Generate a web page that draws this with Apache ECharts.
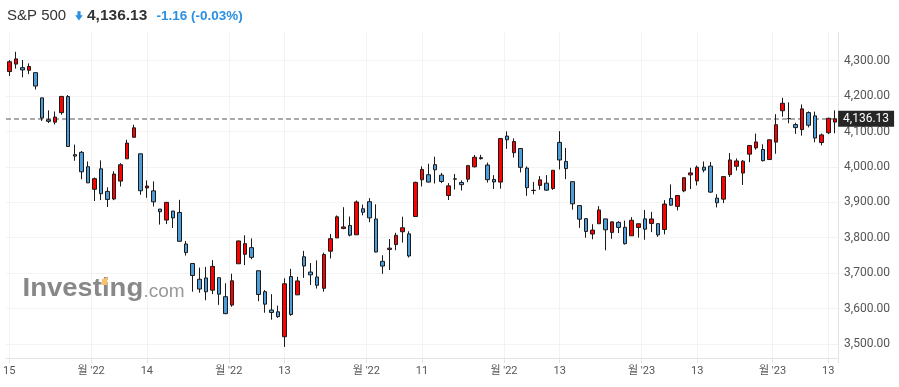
<!DOCTYPE html>
<html><head><meta charset="utf-8">
<script src="https://cdn.jsdelivr.net/npm/echarts@6/dist/echarts.min.js"></script>
<style>html,body{margin:0;padding:0;background:#fff}#c{width:899px;height:387px}</style>
</head><body><div id="c"></div>
<script>
const title = 'S&P 500';
const lastPrice = 4136.13;
const change = -1.16;
const changePct = -0.03;

const categories = [
'2022-08-15','2022-08-16','2022-08-17','2022-08-18','2022-08-19','2022-08-22','2022-08-23','2022-08-24','2022-08-25','2022-08-26',
'2022-08-29','2022-08-30','2022-08-31','2022-09-01','2022-09-02','2022-09-06','2022-09-07','2022-09-08','2022-09-09','2022-09-12',
'2022-09-13','2022-09-14','2022-09-15','2022-09-16','2022-09-19','2022-09-20','2022-09-21','2022-09-22','2022-09-23','2022-09-26',
'2022-09-27','2022-09-28','2022-09-29','2022-09-30','2022-10-03','2022-10-04','2022-10-05','2022-10-06','2022-10-07','2022-10-10',
'2022-10-11','2022-10-12','2022-10-13','2022-10-14','2022-10-17','2022-10-18','2022-10-19','2022-10-20','2022-10-21','2022-10-24',
'2022-10-25','2022-10-26','2022-10-27','2022-10-28','2022-10-31','2022-11-01','2022-11-02','2022-11-03','2022-11-04','2022-11-07',
'2022-11-08','2022-11-09','2022-11-10','2022-11-11','2022-11-14','2022-11-15','2022-11-16','2022-11-17','2022-11-18','2022-11-21',
'2022-11-22','2022-11-23','2022-11-25','2022-11-28','2022-11-29','2022-11-30','2022-12-01','2022-12-02','2022-12-05','2022-12-06',
'2022-12-07','2022-12-08','2022-12-09','2022-12-12','2022-12-13','2022-12-14','2022-12-15','2022-12-16','2022-12-19','2022-12-20',
'2022-12-21','2022-12-22','2022-12-23','2022-12-27','2022-12-28','2022-12-29','2022-12-30','2023-01-03','2023-01-04','2023-01-05',
'2023-01-06','2023-01-09','2023-01-10','2023-01-11','2023-01-12','2023-01-13','2023-01-17','2023-01-18','2023-01-19','2023-01-20',
'2023-01-23','2023-01-24','2023-01-25','2023-01-26','2023-01-27','2023-01-30','2023-01-31','2023-02-01','2023-02-02','2023-02-03',
'2023-02-06','2023-02-07','2023-02-08','2023-02-09','2023-02-10','2023-02-13','2023-02-14'
];

const opens = [
4269.37,4290.46,4280.40,4273.13,4266.31,4195.08,4133.09,4126.55,4153.26,4198.74,
4034.58,4041.25,4000.67,3936.73,3994.66,3930.89,3909.43,3959.94,4022.94,4083.67,
4037.12,3940.73,3932.41,3880.95,3849.91,3875.23,3871.40,3782.36,3727.14,3682.72,
3686.44,3651.94,3687.01,3633.48,3609.78,3726.46,3753.25,3771.97,3706.74,3647.51,
3595.86,3590.83,3520.37,3690.41,3638.65,3746.26,3703.11,3689.05,3657.10,3762.01,
3799.44,3825.97,3834.69,3808.26,3881.85,3901.79,3852.90,3733.25,3766.98,3780.71,
3817.02,3810.94,3859.89,3963.72,3977.97,4006.41,3976.82,3919.26,3966.39,3956.23,
3965.51,4000.30,4023.34,4005.36,3964.76,3957.18,4087.14,4040.17,4052.02,3996.63,
3933.28,3947.79,3954.17,3939.29,4069.38,4015.54,3958.37,3890.91,3853.79,3810.47,
3839.49,3853.26,3815.11,3843.34,3829.56,3805.45,3829.06,3853.29,3840.36,3839.74,
3823.37,3910.82,3888.57,3932.35,3977.57,3960.60,3999.28,4002.25,3911.84,3909.04,
3978.14,4001.74,3982.71,4036.08,4053.72,4049.27,4020.85,4070.07,4158.68,4136.69,
4119.57,4105.35,4153.47,4144.25,4068.92,4096.62,4126.70
];
const highs = [
4301.79,4325.28,4302.18,4292.53,4266.31,4195.08,4159.77,4156.56,4200.54,4203.04,
4062.99,4044.98,4015.37,3970.23,4018.43,3942.55,3987.89,4010.50,4076.81,4119.28,
4037.12,3961.94,3959.14,3880.95,3900.45,3876.01,3907.07,3790.87,3727.14,3715.67,
3717.53,3736.74,3687.01,3671.44,3698.35,3791.92,3806.91,3797.93,3706.74,3652.17,
3640.66,3608.34,3685.41,3712.00,3689.73,3762.79,3728.58,3736.00,3757.89,3810.74,
3862.85,3886.15,3859.95,3905.42,3893.73,3911.79,3894.44,3750.59,3796.34,3813.95,
3859.40,3818.20,3958.33,4001.48,4008.97,4028.84,3983.09,3954.33,3979.89,3962.00,
4005.88,4033.78,4034.02,4012.27,3976.77,4080.11,4100.51,4080.48,4052.45,4001.51,
3957.57,3974.19,3977.02,3990.71,4100.96,4053.76,3958.37,3890.91,3854.86,3838.24,
3889.28,3853.26,3845.80,3846.65,3848.32,3858.19,3839.85,3878.46,3873.16,3839.74,
3906.19,3950.57,3919.83,3970.07,3997.76,4003.95,4015.39,4014.16,3922.94,3972.96,
4039.31,4023.92,4019.55,4061.57,4094.21,4063.85,4077.16,4148.95,4195.44,4182.36,
4124.63,4176.54,4156.85,4156.23,4094.36,4138.90,4159.77
];
const lows = [
4256.90,4277.77,4253.08,4261.98,4218.70,4129.86,4124.03,4119.97,4147.59,4057.66,
4017.42,3965.21,3954.53,3903.65,3906.21,3886.75,3906.03,3944.81,4022.94,4083.67,
3921.14,3912.85,3888.28,3837.08,3838.50,3827.54,3789.49,3749.65,3647.47,3644.76,
3623.29,3640.61,3610.40,3584.13,3604.93,3726.46,3722.66,3739.22,3620.73,3588.10,
3568.45,3573.86,3491.58,3579.68,3638.65,3686.53,3666.51,3656.44,3647.42,3741.65,
3799.44,3824.07,3803.79,3808.26,3863.18,3843.80,3758.68,3698.15,3708.84,3764.70,
3786.28,3744.22,3859.89,3944.82,3956.40,3953.17,3954.34,3906.54,3935.98,3933.34,
3956.88,3998.66,4020.76,3955.77,3937.65,3938.58,4050.87,4026.63,3984.49,3918.39,
3922.68,3935.83,3933.04,3935.30,3993.03,3965.65,3879.45,3827.91,3800.04,3795.62,
3839.49,3764.49,3797.01,3813.22,3780.78,3805.45,3800.34,3794.33,3815.77,3802.42,
3809.56,3890.42,3877.29,3928.54,3937.56,3947.67,3984.57,3926.59,3885.54,3897.86,
3971.64,3989.79,3949.06,4013.29,4048.70,4015.55,4020.44,4037.20,4141.88,4123.36,
4093.38,4088.39,4111.67,4069.67,4060.79,4092.67,4095.01
];
const closes = [
4297.14,4305.20,4274.04,4283.74,4228.48,4137.99,4128.73,4140.77,4199.12,4057.66,
4030.61,3986.16,3955.00,3966.85,3924.26,3908.19,3979.87,4006.18,4067.36,4110.41,
3932.69,3946.01,3901.35,3873.33,3899.89,3855.93,3789.93,3757.99,3693.23,3655.04,
3647.29,3719.04,3640.47,3585.62,3678.43,3790.93,3783.28,3744.52,3639.66,3612.39,
3588.84,3577.03,3669.91,3583.07,3677.95,3719.98,3695.16,3665.78,3752.75,3797.34,
3859.11,3830.60,3807.30,3901.06,3871.98,3856.10,3759.69,3719.89,3770.55,3806.80,
3828.11,3748.57,3956.37,3992.93,3957.25,3991.73,3958.79,3946.56,3965.34,3949.94,
4003.58,4027.26,4026.12,3963.94,3957.63,4080.11,4076.57,4071.70,3998.84,3941.26,
3933.92,3963.51,3934.38,3990.56,4019.65,3995.32,3895.75,3852.36,3817.66,3821.62,
3878.44,3822.39,3844.82,3829.25,3783.22,3849.28,3839.50,3824.14,3852.97,3808.10,
3895.08,3892.09,3919.25,3969.61,3983.17,3999.09,3990.97,3928.86,3898.85,3972.61,
4019.81,4016.95,4016.22,4060.43,4070.56,4017.77,4076.60,4119.21,4179.76,4136.48,
4111.08,4164.00,4117.86,4081.50,4090.46,4137.29,4136.13
];

const tickDates = ['2022-08-15','2022-09-01','2022-09-14','2022-10-03','2022-10-13','2022-11-01','2022-11-11','2022-12-01','2022-12-13','2023-01-03','2023-01-13','2023-02-01','2023-02-13'];
const tickTexts = ['15',"월 '22",'14',"월 '22",'13',"월 '22",'11',"월 '22",'13',"월 '23",'13',"월 '23",'13'];

const fmt = v => v.toLocaleString('en-US', {minimumFractionDigits: 2, maximumFractionDigits: 2});
const tickIdx = {};
tickDates.forEach((d, k) => { tickIdx[categories.indexOf(d)] = tickTexts[k]; });
const isMonth = i => tickIdx[i] !== undefined && tickIdx[i].indexOf('월') >= 0;
const isDay = i => tickIdx[i] !== undefined && !isMonth(i);
const candles = categories.map((d, i) => [opens[i], closes[i], lows[i], highs[i]]);

const AX = '#e2e2e8', GRID = '#f3f3f3', TX = '#555';
const LF = 'Roboto, "Noto Sans CJK KR", sans-serif';
const T = 'rgba(0,0,0,0)';

const chart = echarts.init(document.getElementById('c'), null, {renderer: 'canvas'});
chart.setOption({
  animation: false,
  backgroundColor: '#fff',
  grid: {left: 6, right: 60.9, top: 32.4, bottom: 28.9, containLabel: false, outerBoundsMode: 'none'},
  xAxis: [{
    type: 'category', data: categories, position: 'bottom', boundaryGap: true,
    axisLine: {show: true, lineStyle: {color: AX}},
    axisTick: {show: true, alignWithLabel: true, interval: i => isDay(i), length: 5, lineStyle: {color: AX}},
    axisLabel: {interval: i => isDay(i), formatter: (v, i) => tickIdx[i] || '', fontFamily: LF, fontSize: 11, color: TX, margin: 8},
    splitLine: {show: true, alignWithLabel: true, interval: i => isDay(i), lineStyle: {color: GRID}}
  }, {
    type: 'category', data: categories, position: 'bottom', boundaryGap: true,
    axisLine: {show: false},
    axisTick: {show: true, alignWithLabel: false, interval: i => isMonth(i), length: 5, lineStyle: {color: AX}},
    axisLabel: {interval: i => isMonth(i), formatter: (v, i) => tickIdx[i] || '', fontFamily: LF, fontSize: 11, color: TX, margin: 8, padding: [0, 6.55, 0, 0]},
    splitLine: {show: true, interval: i => isMonth(i), lineStyle: {color: GRID}}
  }],
  yAxis: {
    type: 'value', position: 'right', min: 3460, max: 4380, interval: 20,
    axisLine: {show: true, lineStyle: {color: AX}},
    axisTick: {show: false},
    axisLabel: {margin: 6, fontFamily: LF, fontSize: 12, color: TX, formatter: v => (v % 100 === 0 ? fmt(v) : '')},
    splitLine: {show: true, lineStyle: {color: [T, T, GRID, T, T], width: 1}}
  },
  series: [{
    type: 'candlestick', xAxisIndex: 0, data: candles, barWidth: 4,
    itemStyle: {color: '#ff0000', color0: '#4d9ddb', borderColor: '#1a1a1a', borderColor0: '#1a1a1a', borderWidth: 1},
    markLine: {
      symbol: 'none', silent: true, z: 1, animation: false,
      lineStyle: {type: [5, 3], color: '#8f8f8f', width: 1.5},
      label: {position: 'end', distance: 0, formatter: fmt(lastPrice), backgroundColor: '#262626', color: '#fff',
              padding: [2, 5], fontFamily: LF, fontSize: 12, lineHeight: 12},
      emphasis: {disabled: true},
      data: [{yAxis: lastPrice}]
    }
  }],
  graphic: {elements: [
    {type: 'text', x: 7, y: 15.5, style: {text: title, font: '15px "Liberation Sans"', fill: '#333', verticalAlign: 'middle'}},
    {type: 'polygon', shape: {points: [[77.4, 11.3], [80.6, 11.3], [80.6, 15.3], [82.8, 15.3], [79, 20.5], [75.2, 15.3], [77.4, 15.3]]}, style: {fill: '#2b8fe2'}},
    {type: 'text', x: 87, y: 15.5, style: {text: fmt(lastPrice), font: 'bold 15.5px "Liberation Sans"', fill: '#333', verticalAlign: 'middle'}},
    {type: 'text', x: 156.5, y: 16, style: {text: change.toFixed(2) + ' (' + changePct.toFixed(2) + '%)', font: 'bold 13.5px "Liberation Sans"', fill: '#2b8fe2', verticalAlign: 'middle'}},
    {type: 'text', x: 22.5, y: 289, scaleX: 1.1, style: {text: 'Investing', font: 'bold 25px "Liberation Sans"', fill: '#888', verticalAlign: 'middle'}},
    {type: 'polygon', shape: {points: [[101.8, 279.5], [107.3, 277], [107.3, 285], [101.8, 285]]}, style: {fill: '#f7c26b'}},
    {type: 'text', x: 143.5, y: 291.5, style: {text: '.com', font: '19px "Liberation Sans"', fill: '#999', verticalAlign: 'middle'}}
  ]}
});
</script>
</body></html>
